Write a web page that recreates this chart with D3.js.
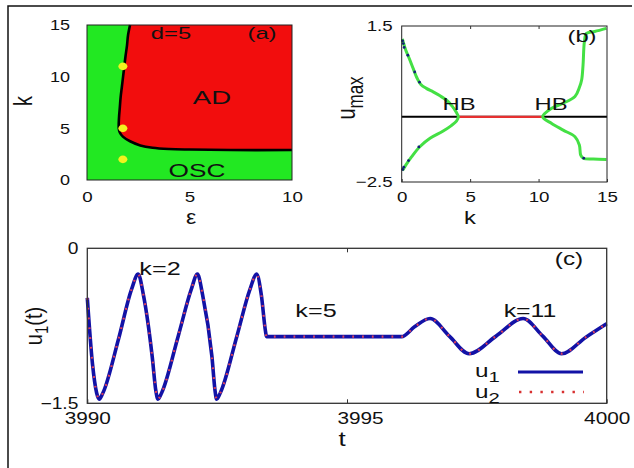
<!DOCTYPE html>
<html><head><meta charset="utf-8">
<script src="https://cdn.jsdelivr.net/npm/d3@7"></script>
<style>
body{margin:0;background:#fff;}
svg{display:block;}
text{font-family:"Liberation Sans",Arial,Helvetica,sans-serif;fill:#111;}
</style>
</head><body>
<svg id="c" width="634" height="468"></svg>
<script>
// ---------- data ----------
// panel (a): phase diagram eps-k, d=5
const aXTicks = [0, 5, 10];
const aYTicks = [0, 5, 10, 15];
const aBoundaryEps = [2.1, 2.0, 1.95, 1.88, 1.82, 1.76, 1.7, 1.64, 1.6, 1.56, 1.55, 1.6, 1.75, 2.1, 2.6, 3.2, 4.0, 5.0, 7.0, 10.0];
const aBoundaryK   = [15, 14, 13, 12, 11, 10, 9, 8, 7, 6, 5, 4.6, 4.2, 3.75, 3.35, 3.12, 3.0, 2.95, 2.9, 2.9];
const aDotEps = [1.75, 1.75, 1.75];
const aDotK   = [11, 5, 2];

// panel (b): bifurcation diagram u_max vs k
const bXTicks = [0, 5, 10, 15];
const bYTicks = [-2.5, 1.5];
const bFixedU = -0.83;
const bHB = [4.14, 10.3];
const bLeftK = [0.05, 0.12, 0.3, 0.56, 0.85, 1.1, 1.4, 1.8, 2.3, 2.8, 3.3, 3.7, 4.0, 4.14, 4.0, 3.6, 3.0, 2.07, 1.34, 0.73, 0.31, 0.12, 0.05];
const bLeftU = [1.17, 1.08, 0.88, 0.66, 0.40, 0.18, 0.0, -0.1, -0.19, -0.29, -0.41, -0.56, -0.72, -0.83, -0.94, -1.06, -1.2, -1.38, -1.59, -1.85, -2.06, -2.17, -2.2];
const bRightK = [14.95, 14.1, 13.5, 13.35, 13.25, 13.15, 13.0, 12.66, 11.8, 10.96, 10.3, 10.96, 11.8, 12.66, 12.98, 13.08, 13.27, 14.0, 14.95];
const bRightU = [1.44, 1.36, 1.31, 1.1, 0.5, 0.12, -0.06, -0.31, -0.48, -0.61, -0.83, -1.0, -1.17, -1.34, -1.55, -1.81, -1.89, -1.91, -1.92];
const bUnstK = [0.07, 0.12, 0.18, 0.45, 0.95, 1.3, 0.08, 0.15, 0.5, 1.25, 13.3];
const bUnstU = [1.12, 1.05, 0.95, 0.75, 0.32, 0.06, -2.18, -2.12, -1.95, -1.6, -1.89];

// panel (c): time series
const cXTicks = [3990, 3995, 4000];
const cYTicks = [-1.5, 0];
const cT  = [3990.00, 3990.10, 3990.18, 3990.23, 3990.30, 3990.60, 3990.85, 3990.98, 3991.08, 3991.25, 3991.32, 3991.36, 3991.43, 3991.75, 3992.00, 3992.12, 3992.22, 3992.40, 3992.46, 3992.49, 3992.56, 3992.88, 3993.13, 3993.26, 3993.35, 3993.43, 3993.45, 3996.05, 3996.30, 3996.60, 3996.97, 3997.35, 3997.87, 3998.39, 3998.77, 3999.13, 3999.60, 4000.00];
const cU1 = [-0.48, -1.12, -1.40, -1.46, -1.40, -0.88, -0.40, -0.25, -0.45, -1.05, -1.38, -1.46, -1.40, -0.85, -0.40, -0.25, -0.45, -1.05, -1.38, -1.46, -1.40, -0.85, -0.40, -0.25, -0.45, -0.80, -0.855, -0.855, -0.76, -0.68, -0.85, -1.02, -0.85, -0.68, -0.85, -1.02, -0.86, -0.73];
const cU2 = [-0.48, -1.12, -1.40, -1.46, -1.40, -0.88, -0.40, -0.25, -0.45, -1.05, -1.38, -1.46, -1.40, -0.85, -0.40, -0.25, -0.45, -1.05, -1.38, -1.46, -1.40, -0.85, -0.40, -0.25, -0.45, -0.80, -0.855, -0.855, -0.76, -0.68, -0.85, -1.02, -0.85, -0.68, -0.85, -1.02, -0.86, -0.73];

// ---------- style ----------
const GREEN = "#22e822", RED = "#f20d0d", YELLOW = "#f2f21e";
const LGREEN = "#44e044", BLUE = "#1212a6", DOTRED = "#e0405a";

const svg = d3.select("#c");

// outer frame (top + left)
svg.append("path").attr("d", "M8,468V6H632").attr("fill", "none").attr("stroke", "#111").attr("stroke-width", 1.5);

function styleAxis(g, fs, sx) {
  g.select(".domain").remove();
  g.selectAll("line").attr("stroke", "#333");
  g.selectAll("text").style("font-size", fs + "px").attr("fill", "#111").each(function () {
    const x = +(this.getAttribute("x") || 0);
    this.setAttribute("x", x / sx);
    this.setAttribute("transform", `scale(${sx},1)`);
  });
  return g;
}
function txt(x, y, s, fs, sx, anchor) {
  return svg.append("text").attr("transform", `translate(${x},${y}) scale(${sx},1)`)
    .attr("text-anchor", anchor || "middle").style("font-size", fs + "px").text(s);
}

// ================= panel (a) =================
const ax = d3.scaleLinear().domain([0, 10]).range([87, 292]);
const ay = d3.scaleLinear().domain([0, 15]).range([180, 25]);
const ga = svg.append("g");
ga.append("rect").attr("x", ax(0)).attr("y", ay(15)).attr("width", ax(10) - ax(0)).attr("height", ay(0) - ay(15)).attr("fill", GREEN);
const aPts = aBoundaryEps.map((e, i) => [e, aBoundaryK[i]]);
const aLine = d3.line().x(d => ax(d[0])).y(d => ay(d[1])).curve(d3.curveCatmullRom);
ga.append("path").attr("d", aLine(aPts) + "L" + ax(10) + "," + ay(15) + "Z").attr("fill", RED);
ga.append("path").attr("d", aLine(aPts)).attr("fill", "none").attr("stroke", "#000").attr("stroke-width", 2.6);
ga.append("rect").attr("x", ax(0)).attr("y", ay(15)).attr("width", ax(10) - ax(0)).attr("height", ay(0) - ay(15)).attr("fill", "none").attr("stroke", "#222").attr("stroke-width", 1);
ga.selectAll("ellipse.dot").data(aDotEps.map((e, i) => [e, aDotK[i]])).join("ellipse")
  .attr("cx", d => ax(d[0])).attr("cy", d => ay(d[1])).attr("rx", 4.5).attr("ry", 3.8).attr("fill", YELLOW);
styleAxis(svg.append("g").attr("transform", `translate(0,${ay(0)})`).call(d3.axisBottom(ax).tickValues(aXTicks).tickSize(0).tickPadding(11)), 15, 1.25);
styleAxis(svg.append("g").attr("transform", `translate(${ax(0)},0)`).call(d3.axisLeft(ay).tickValues(aYTicks).tickSize(0).tickPadding(17)), 15, 1.2);
txt(171, 39, "d=5", 17, 1.4);
txt(262, 39, "(a)", 17, 1.4);
txt(212, 104, "AD", 19, 1.45);
txt(197, 177, "OSC", 19, 1.38);
svg.append("text").attr("transform", "translate(32,101) scale(1.25,1) rotate(-90)").attr("text-anchor", "middle").style("font-size", "20px").text("k");
txt(191, 224, "ε", 20, 1.15);

// ================= panel (b) =================
const bx = d3.scaleLinear().domain([0, 15]).range([401.7, 607]);
const by = d3.scaleLinear().domain([-2.5, 1.5]).range([182, 26]);
const gb = svg.append("g");
gb.append("line").attr("x1", bx(0)).attr("x2", bx(15)).attr("y1", by(bFixedU)).attr("y2", by(bFixedU)).attr("stroke", "#000").attr("stroke-width", 2);
gb.append("line").attr("x1", bx(bHB[0])).attr("x2", bx(bHB[1])).attr("y1", by(bFixedU)).attr("y2", by(bFixedU)).attr("stroke", "#e63030").attr("stroke-width", 2.2);
const bLine = d3.line().x(d => bx(d[0])).y(d => by(d[1])).curve(d3.curveCatmullRom);
gb.append("path").attr("d", bLine(bLeftK.map((k, i) => [k, bLeftU[i]]))).attr("fill", "none").attr("stroke", LGREEN).attr("stroke-width", 3);
gb.append("path").attr("d", bLine(bRightK.map((k, i) => [k, bRightU[i]]))).attr("fill", "none").attr("stroke", LGREEN).attr("stroke-width", 3);
gb.selectAll("circle").data(bUnstK.map((k, i) => [k, bUnstU[i]])).join("circle")
  .attr("cx", d => bx(d[0])).attr("cy", d => by(d[1])).attr("r", 1.4).attr("fill", "#14207a");
gb.append("rect").attr("x", bx(0)).attr("y", by(1.5)).attr("width", bx(15) - bx(0)).attr("height", by(-2.5) - by(1.5)).attr("fill", "none").attr("stroke", "#222").attr("stroke-width", 1);
styleAxis(svg.append("g").attr("transform", `translate(0,${by(-2.5)})`).call(d3.axisBottom(bx).tickValues(bXTicks).tickSize(-3).tickPadding(9)), 15, 1.25);
styleAxis(svg.append("g").attr("transform", `translate(0,${by(1.5)})`).call(d3.axisTop(bx).tickValues([5, 10]).tickSize(-3).tickFormat("")), 15, 1.25);
styleAxis(svg.append("g").attr("transform", `translate(${bx(0)},0)`).call(d3.axisLeft(by).tickValues(bYTicks).tickSize(0).tickPadding(9).tickFormat(d3.format(".1f"))), 15, 1.25);
txt(459, 110, "HB", 17, 1.4);
txt(551, 110, "HB", 17, 1.4);
txt(582, 42, "(b)", 17, 1.4);
txt(470, 224, "k", 19, 1.25);
const um = svg.append("text").attr("transform", "translate(355,98) scale(1.25,1) rotate(-90)").attr("text-anchor", "middle").style("font-size", "20px");
um.append("tspan").text("u");
um.append("tspan").attr("dy", 6).style("font-size", "17px").text("max");

// ================= panel (c) =================
const cx = d3.scaleLinear().domain([3990, 4000]).range([87.3, 606.7]);
const cy = d3.scaleLinear().domain([-1.5, 0]).range([403.3, 248.3]);
const gc = svg.append("g");
const cLine = d3.line().x(d => cx(d[0])).y(d => cy(d[1])).curve(d3.curveMonotoneX);
gc.append("path").attr("d", cLine(cT.map((t, i) => [t, cU1[i]]))).attr("fill", "none").attr("stroke", BLUE).attr("stroke-width", 3.6).attr("stroke-linejoin", "round");
gc.append("path").attr("d", cLine(cT.map((t, i) => [t, cU2[i]]))).attr("fill", "none").attr("stroke", DOTRED).attr("stroke-width", 2.2).attr("stroke-dasharray", "1.8,8");
gc.append("rect").attr("x", cx(3990)).attr("y", cy(0)).attr("width", cx(4000) - cx(3990)).attr("height", cy(-1.5) - cy(0)).attr("fill", "none").attr("stroke", "#333").attr("stroke-width", 1.3);
const cxa = svg.append("g").attr("transform", `translate(0,${cy(-1.5)})`).call(d3.axisBottom(cx).tickValues(cXTicks).tickSize(-4).tickPadding(9).tickFormat(d3.format("d")));
styleAxis(cxa, 16, 1.3);
cxa.selectAll(".tick").filter(d => d === 3995).select("text").attr("dx", 10);
styleAxis(svg.append("g").attr("transform", `translate(0,${cy(0)})`).call(d3.axisTop(cx).tickValues([3995]).tickSize(-4).tickFormat("")), 16, 1.3);
styleAxis(svg.append("g").attr("transform", `translate(${cx(3990)},0)`).call(d3.axisLeft(cy).tickValues(cYTicks).tickSize(0).tickPadding(9).tickFormat(d => d === 0 ? "0" : d3.format(".1f")(d))), 16, 1.2);
txt(160, 275, "k=2", 18, 1.4);
txt(316, 317, "k=5", 18, 1.4);
txt(530, 317, "k=11", 18, 1.38);
txt(569, 265, "(c)", 18, 1.35);
txt(342, 446, "t", 20, 1.3);
const ul = svg.append("text").attr("transform", "translate(42,326) scale(1.2,1) rotate(-90)").attr("text-anchor", "middle").style("font-size", "20px");
ul.append("tspan").text("u");
ul.append("tspan").attr("dy", 5).style("font-size", "15px").text("1");
ul.append("tspan").attr("dy", -5).text("(t)");
// legend
const l1 = svg.append("text").attr("transform", "translate(475,377) scale(1.35,1)").style("font-size", "18px");
l1.append("tspan").text("u");
l1.append("tspan").attr("dy", 5).style("font-size", "15px").text("1");
const l2 = svg.append("text").attr("transform", "translate(475,398) scale(1.35,1)").style("font-size", "18px");
l2.append("tspan").text("u");
l2.append("tspan").attr("dy", 5).style("font-size", "15px").text("2");
svg.append("line").attr("x1", 518).attr("x2", 583).attr("y1", 372).attr("y2", 372).attr("stroke", BLUE).attr("stroke-width", 3);
svg.append("line").attr("x1", 519).attr("x2", 584).attr("y1", 392).attr("y2", 392).attr("stroke", "#d83030").attr("stroke-width", 2.6).attr("stroke-dasharray", "2.4,8.3");
</script>
</body></html>
